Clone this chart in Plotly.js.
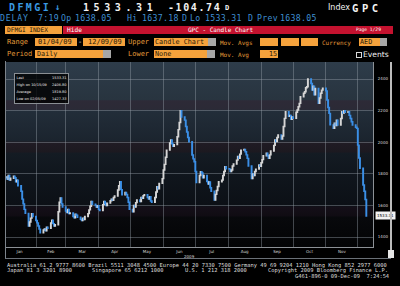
<!DOCTYPE html>
<html><head><meta charset="utf-8">
<script src="https://cdn.plot.ly/plotly-3.0.1.min.js"></script>
<style>
html,body{margin:0;padding:0;background:#000;width:400px;height:286px;overflow:hidden;position:relative;}
.t{position:absolute;white-space:pre;font-family:"DejaVu Sans Mono",monospace;line-height:1;}
.b{position:absolute;}
.or{background:#f5a23c;}
.gr{background:#a7a7a7;}
.lab{color:#e29b3a;font-size:7px;}
.dk{color:#2a1a08;font-size:6.6px;}
.bl{color:#3f8fd2;font-size:8.2px;letter-spacing:0.3px;}
.ft{color:#dedede;font-size:5.4px;letter-spacing:0px;}
#bg{position:absolute;left:6px;top:62px;width:367px;height:185px;
background:linear-gradient(to bottom,#2e3c4a 0%,#28343f 20.3%,#2d2a37 21%,#2b2a36 25.5%,#222d39 26.5%,#1b242e 42.5%,#201b24 43.5%,#1c1920 48.5%,#141b23 49.5%,#10161d 60%,#0c1016 77.5%,#140f18 78.5%,#100c13 83%,#08090c 84%,#030405 100%);}
#plot{position:absolute;left:0;top:0;width:400px;height:286px;}
#stats{position:absolute;left:14px;top:73px;width:53px;height:29px;background:rgba(0,0,0,0.8);border:1px solid #8a8f94;font-family:"DejaVu Sans",sans-serif;font-size:3.5px;line-height:1;color:#e8e8e8;}
#stats div{position:absolute;left:1.5px;right:1.5px;height:4px;}
#stats span.v{position:absolute;right:0;top:0;}
</style></head><body>
<div id="bg"></div>
<div id="plot"></div>
<div class="b" style="left:5px;top:61px;width:385px;height:197px;border-left:1px solid #7d848b;border-bottom:1px solid #6a7077;"></div>
<div class="b" style="left:390px;top:62px;width:2px;height:196px;background:#bdbdbd;"></div>
<div class="b" style="left:388px;top:250px;width:6px;height:8px;background:#e6e6e6;"></div>

<!-- row 1 -->
<div class="t" style="left:9px;top:2.5px;font-size:10px;font-weight:bold;color:#3a9ae2;letter-spacing:2.4px;">DFMGI</div>
<div class="t" style="left:55px;top:2.5px;font-size:9px;font-weight:bold;color:#3a9ae2;">↓</div>
<div class="t" style="left:83px;top:2.5px;font-size:10px;font-weight:bold;color:#f2f2f2;letter-spacing:4.6px;">1533.31</div>
<div class="t" style="left:168px;top:2.5px;font-size:10px;font-weight:bold;color:#f2f2f2;letter-spacing:1.6px;">-104.74</div>
<div class="t" style="left:225px;top:5px;font-size:7px;font-weight:bold;color:#f2f2f2;">D</div>
<div class="t" style="left:328px;top:3.5px;font-size:8px;color:#f2f2f2;font-family:'DejaVu Sans',sans-serif;">Index</div>
<div class="t" style="left:352px;top:2.5px;font-size:10.5px;font-weight:bold;color:#f2f2f2;letter-spacing:3.6px;">GPC</div>

<!-- row 2 -->
<div class="t bl" style="left:0px;top:13.5px;letter-spacing:0.8px;">DELAY</div>
<div class="t bl" style="left:38px;top:13.5px;">7:19</div>
<div class="t bl" style="left:61px;top:13.5px;">Op</div>
<div class="t bl" style="left:75px;top:13.5px;">1638.05</div>
<div class="t bl" style="left:127px;top:13.5px;">Hi</div>
<div class="t bl" style="left:142px;top:13.5px;">1637.18</div>
<div class="t bl" style="left:182px;top:13.5px;">D</div>
<div class="t bl" style="left:190px;top:13.5px;">Lo</div>
<div class="t bl" style="left:205px;top:13.5px;">1533.31</div>
<div class="t bl" style="left:248px;top:13.5px;">D</div>
<div class="t bl" style="left:257px;top:13.5px;">Prev</div>
<div class="t bl" style="left:280px;top:13.5px;">1638.05</div>

<!-- row 3 -->
<div class="b or" style="left:5px;top:26px;width:57px;height:8px;"></div>
<div class="t dk" style="left:7px;top:27px;font-size:6.2px;">DFMGI INDEX</div>
<div class="b" style="left:63px;top:26px;width:330px;height:8px;background:#c4122f;"></div>
<div class="t" style="left:67px;top:27px;font-size:6.2px;color:#fff;">Hide</div>
<div class="t" style="left:188px;top:27px;font-size:6px;color:#fff;">GPC - Candle Chart</div>
<div class="t" style="left:356px;top:27.8px;font-size:4.6px;color:#fff;">Page 1/29</div>

<!-- row 4 -->
<div class="t lab" style="left:7px;top:39px;">Range</div>
<div class="b or" style="left:35px;top:38px;width:42px;height:8px;"></div>
<div class="t dk" style="left:38px;top:39.2px;font-size:7px;">01/04/09</div>
<div class="t" style="left:78px;top:39px;font-size:7px;color:#e8e8e8;">-</div>
<div class="b or" style="left:83px;top:38px;width:42px;height:8px;"></div>
<div class="t dk" style="left:88px;top:39.2px;font-size:7px;">12/09/09</div>
<div class="t lab" style="left:128px;top:39px;">Upper</div>
<div class="b or" style="left:154px;top:38px;width:54px;height:8px;"></div>
<div class="b gr" style="left:208px;top:38px;width:8px;height:8px;"></div>
<div class="t dk" style="left:155px;top:39.2px;font-size:6.8px;">Candle Chart</div>
<div class="t lab" style="left:220px;top:39.5px;font-size:6px;">Mov. Avgs</div>
<div class="b or" style="left:260px;top:38px;width:18px;height:8px;"></div>
<div class="b or" style="left:281px;top:38px;width:18px;height:8px;"></div>
<div class="b or" style="left:301px;top:38px;width:17px;height:8px;"></div>
<div class="t lab" style="left:322px;top:39.5px;font-size:6px;">Currency</div>
<div class="b or" style="left:359px;top:38px;width:21px;height:8px;"></div>
<div class="b gr" style="left:380px;top:38px;width:7px;height:8px;"></div>
<div class="t dk" style="left:360px;top:39.2px;font-size:6.8px;">AED</div>

<!-- row 5 -->
<div class="t lab" style="left:7px;top:51px;">Period</div>
<div class="b or" style="left:35px;top:50px;width:68px;height:8px;"></div>
<div class="b gr" style="left:103px;top:50px;width:8px;height:8px;"></div>
<div class="t dk" style="left:37px;top:51.2px;font-size:6.8px;">Daily</div>
<div class="t lab" style="left:128px;top:51px;">Lower</div>
<div class="b or" style="left:154px;top:50px;width:53px;height:8px;"></div>
<div class="b gr" style="left:207px;top:50px;width:8px;height:8px;"></div>
<div class="t dk" style="left:155px;top:51.2px;font-size:6.8px;">None</div>
<div class="t lab" style="left:220px;top:51.5px;font-size:6px;">Mov. Avg</div>
<div class="b or" style="left:260px;top:50px;width:18px;height:8px;"></div>
<div class="t dk" style="left:269px;top:51.2px;font-size:6.8px;">15</div>
<div class="b" style="left:356px;top:52px;width:4px;height:4px;border:1px solid #d8d8d8;"></div>
<div class="t" style="left:363px;top:50.5px;font-size:7.6px;color:#f2f2f2;font-family:'DejaVu Sans',sans-serif;">Events</div>

<!-- stats box -->
<div id="stats">
<div style="top:2.5px;">Last<span class="v">1533.31</span></div>
<div style="top:9.5px;">High on 10/15/09<span class="v">2406.80</span></div>
<div style="top:16.5px;">Average<span class="v">1819.80</span></div>
<div style="top:23.5px;">Low on 02/05/09<span class="v">1427.33</span></div>
</div>

<!-- footer -->
<div class="t ft" style="left:7px;top:262.6px;">Australia 61 2 9777 8600 Brazil 5511 3048 4500 Europe 44 20 7330 7500 Germany 49 69 9204 1210 Hong Kong 852 2977 6000</div>
<div class="t ft" style="left:7px;top:268.2px;">Japan 81 3 3201 8900</div>
<div class="t ft" style="left:92px;top:268.2px;">Singapore 65 6212 1000</div>
<div class="t ft" style="left:185px;top:268.2px;">U.S. 1 212 318 2000</div>
<div class="t ft" style="left:268px;top:268.2px;">Copyright 2009 Bloomberg Finance L.P.</div>
<div class="t ft" style="left:295px;top:273.8px;">G461-896-0 09-Dec-09  7:24:54</div>

<script>
// ---- data (DFMGI daily closes, Sun–Thu trading days) ----
const TRADE_START = '2009-01-04';
const TRADE_END = '2009-12-09';
const FIRST_OPEN = 1775;
const closes = [
 1780,1765,1790,1760,1772, 1785,1775,1750,1760,1725, 1690,1640,1610,1575,1550,
 1470,1495,1520,1548,1530, 1505,1490,1470,1450,1427.33, 1445,1452,1440,1462,1455,
 1490,1507,1485,1470,1478, 1560,1620,1647,1610,1590, 1565,1555,1575,1548,1552,
 1530,1522,1545,1538,1525, 1512,1505,1520,1510,1530, 1548,1572,1595,1625,1608,
 1600,1588,1598,1575,1568, 1605,1625,1612,1600,1615, 1630,1640,1632,1650,1660,
 1698,1725,1750,1700,1668, 1682,1670,1650,1620,1575, 1560,1600,1590,1618,1635,
 1625,1650,1645,1662,1668, 1650,1640,1655,1628,1620, 1650,1685,1718,1705,1740,
 1770,1824,1860,1905,1950, 1995,2014,1990,1975,1985, 2035,2080,2125,2200,2160,
 2140,2100,2065,2030,2003, 1919,1895,1877,1815,1745, 1790,1813,1805,1775,1790,
 1752,1735,1748,1712,1690, 1634,1670,1695,1720,1750, 1760,1790,1815,1845,1832,
 1830,1815,1824,1850,1862, 1887,1910,1898,1925,1950, 1955,1940,1920,1898,1850,
 1771,1800,1790,1815,1830, 1856,1848,1870,1890,1915, 1930,1915,1898,1920,1945,
 1980,2014,2005,2030,2046, 2020,2040,2100,2151,2193, 2165,2170,2145,2160,2151,
 2190,2204,2225,2246,2288, 2310,2320,2345,2351,2400, 2372,2330,2355,2300,2340,
 2246,2280,2310,2330,2342, 2325,2267,2220,2183,2110, 2088,2120,2105,2140,2109,
 2150,2193,2185,2200,2190, 2193,2170,2150,2130,2109, 2095,2088,1982,1900,1835,
 1729,1690,1638.05,1533.31
];
const yTickVals = [1400,1600,1800,2000,2200,2400];
const yTickText = ['1400','1600','1800','2000','2200','2400'];
const LAST_PRICE = 1533.31;
const YEAR_LABEL = '2009';

function tradingDays(s, e) {
  const out = [];
  let d = new Date(s + 'T00:00:00Z');
  const end = new Date(e + 'T00:00:00Z');
  while (d <= end) {
    const w = d.getUTCDay();
    if (w !== 5 && w !== 6) out.push(d.toISOString().slice(0, 10));
    d = new Date(d.getTime() + 86400000);
  }
  return out;
}
const dates = tradingDays(TRADE_START, TRADE_END).slice(0, closes.length);
const opens = closes.map((c, i) => i === 0 ? FIRST_OPEN : closes[i - 1]);
const highs = closes.map((c, i) => Math.max(c, opens[i]));
const lows = closes.map((c, i) => Math.min(c, opens[i]));

const gridC = 'rgba(150,160,170,0.42)';
const trace = {
  type: 'candlestick', x: dates, open: opens, high: highs, low: lows, close: closes,
  increasing: {line: {color: '#d6d6d6', width: 1.4}, fillcolor: '#d6d6d6'},
  decreasing: {line: {color: '#3b8fe6', width: 1.4}, fillcolor: '#3b8fe6'},
  whiskerwidth: 0, hoverinfo: 'skip'
};
const layout = {
  width: 400, height: 286,
  margin: {l: 6, r: 27, t: 62, b: 39, pad: 0},
  paper_bgcolor: 'rgba(0,0,0,0)', plot_bgcolor: 'rgba(0,0,0,0)',
  showlegend: false,
  xaxis: {
    type: 'date', range: ['2009-01-03 18:00', '2009-12-15 07:00'],
    dtick: 'M1', tick0: '2009-01-01', ticklabelmode: 'period', tickformat: '%b',
    showgrid: true, gridcolor: gridC, gridwidth: 1, ticks: '',
    tickfont: {size: 4, color: '#d8d8d8', family: 'DejaVu Sans'},
    showline: true, linecolor: '#8c9196', linewidth: 1,
    rangeslider: {visible: false}, zeroline: false, fixedrange: true
  },
  yaxis: {
    side: 'right', range: [1337, 2508], tickvals: yTickVals, ticktext: yTickText,
    showgrid: true, gridcolor: gridC, gridwidth: 1, ticks: '', ticklabelstandoff: 3,
    tickfont: {size: 4, color: '#d8d8d8', family: 'DejaVu Sans'},
    showline: true, linecolor: '#8c9196', linewidth: 1, zeroline: false, fixedrange: true
  },
  annotations: [
    {xref: 'paper', yref: 'paper', x: 0.501, y: -0.049, text: YEAR_LABEL, showarrow: false,
     font: {size: 4, color: '#d8d8d8', family: 'DejaVu Sans'}, xanchor: 'center', yanchor: 'middle'},
    {xref: 'paper', yref: 'y', x: 1, xshift: 2, y: LAST_PRICE, text: LAST_PRICE.toFixed(2), showarrow: false,
     xanchor: 'left', yanchor: 'middle', bgcolor: '#f2f2f2', borderpad: 1,
     font: {size: 4, color: '#000', family: 'DejaVu Sans'}}
  ]
};
Plotly.newPlot('plot', [trace], layout, {staticPlot: true, displayModeBar: false});
</script>
</body></html>
